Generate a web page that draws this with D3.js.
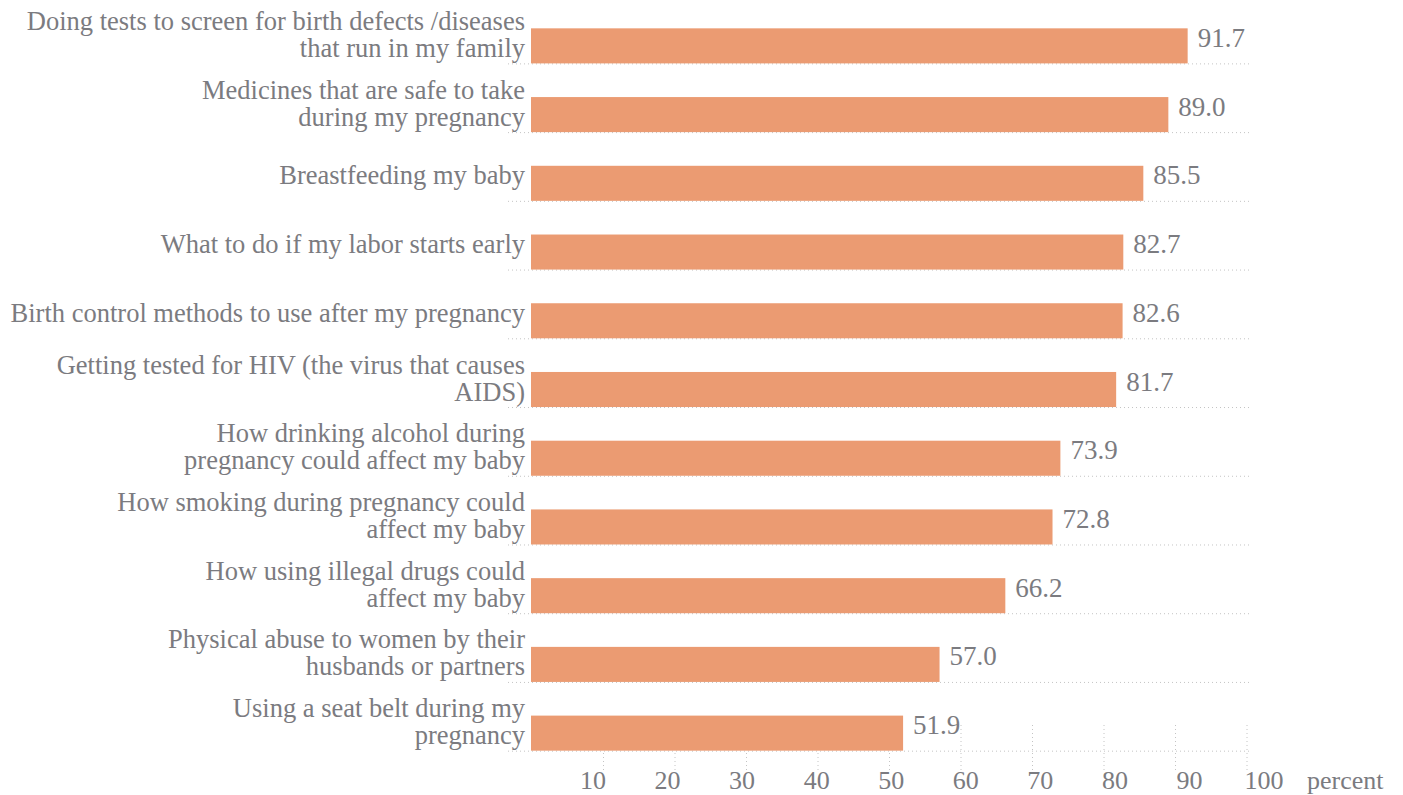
<!DOCTYPE html>
<html>
<head>
<meta charset="utf-8">
<script src="https://cdn.jsdelivr.net/npm/d3@7"></script>
<style>
  html, body { margin: 0; padding: 0; background: #ffffff; }
  svg { display: block; }
  text { font-family: "Liberation Serif", "Times New Roman", serif; fill: #7b7b80; }
</style>
</head>
<body>
<svg id="chart" width="1403" height="795"></svg>
<script>
// ---- data ----
const categories = [
  "Doing tests to screen for birth defects /diseases\nthat run in my family",
  "Medicines that are safe to take\nduring my pregnancy",
  "Breastfeeding my baby",
  "What to do if my labor starts early",
  "Birth control methods to use after my pregnancy",
  "Getting tested for HIV (the virus that causes\nAIDS)",
  "How drinking alcohol during\npregnancy could affect my baby",
  "How smoking during pregnancy could\naffect my baby",
  "How using illegal drugs could\naffect my baby",
  "Physical abuse to women by their\nhusbands or partners",
  "Using a seat belt during my\npregnancy"
];
const values = [91.7, 89.0, 85.5, 82.7, 82.6, 81.7, 73.9, 72.8, 66.2, 57.0, 51.9];
const tickValues = [10, 20, 30, 40, 50, 60, 70, 80, 90, 100];
const unitLabel = "percent";

// ---- layout ----
const svg = d3.select("#chart");
const barColor = "#EB9B72";
const gridColor = "#c4c4c4";
const fontSize = 26.5;

const x = d3.scaleLinear().domain([0, 100]).range([532, 1247]);
const xLabel = d3.scaleLinear().domain([10, 100]).range([593, 1264]);
const y = d3.scaleBand().domain(d3.range(categories.length))
  .range([11.5, 767.5]).paddingInner(0.49).paddingOuter(0.245);

const gridTop = 725, gridBottom = 771;

// vertical dotted tick lines (behind bars)
svg.append("g").selectAll("line").data(tickValues).join("line")
  .attr("x1", d => x(d)).attr("x2", d => x(d))
  .attr("y1", gridTop).attr("y2", gridBottom)
  .attr("stroke", gridColor).attr("stroke-width", 1)
  .attr("stroke-dasharray", "1,3");

// horizontal dotted baselines under each bar
svg.append("g").selectAll("line").data(values).join("line")
  .attr("x1", 508).attr("x2", x(100) + 5)
  .attr("y1", (d, i) => y(i) + y.bandwidth() + 0.5)
  .attr("y2", (d, i) => y(i) + y.bandwidth() + 0.5)
  .attr("stroke", gridColor).attr("stroke-width", 1)
  .attr("stroke-dasharray", "1,3");

// bars
svg.append("g").selectAll("rect").data(values).join("rect")
  .attr("x", x(0) - 1)
  .attr("y", (d, i) => y(i))
  .attr("width", d => x(d) - x(0) + 1)
  .attr("height", y.bandwidth())
  .attr("fill", barColor);

// value labels
svg.append("g").selectAll("text").data(values).join("text")
  .attr("x", d => x(d) + 10)
  .attr("y", (d, i) => y(i) + y.bandwidth() / 2 + 1)
  .attr("font-size", 27)
  .text(d => d.toFixed(1));

// category labels
const lineH = 27;
const lab = svg.append("g").selectAll("text").data(categories).join("text")
  .attr("text-anchor", "end")
  .attr("font-size", fontSize)
  .attr("x", 525)
  .attr("y", (d, i) => {
    const n = d.split("\n").length;
    return y(i) + y.bandwidth() / 2 + 1 - (n - 1) * 17;
  });
lab.each(function(d) {
  const t = d3.select(this);
  d.split("\n").forEach((line, k) => {
    t.append("tspan").attr("x", 525).attr("dy", k === 0 ? 0 : lineH).text(line);
  });
});

// axis tick labels
svg.append("g").selectAll("text").data(tickValues).join("text")
  .attr("x", d => xLabel(d))
  .attr("y", 789)
  .attr("text-anchor", "middle")
  .attr("font-size", 26)
  .text(d => d);

svg.append("text")
  .attr("x", xLabel(100) + 43)
  .attr("y", 789)
  .attr("font-size", 26)
  .text(unitLabel);
</script>
</body>
</html>
